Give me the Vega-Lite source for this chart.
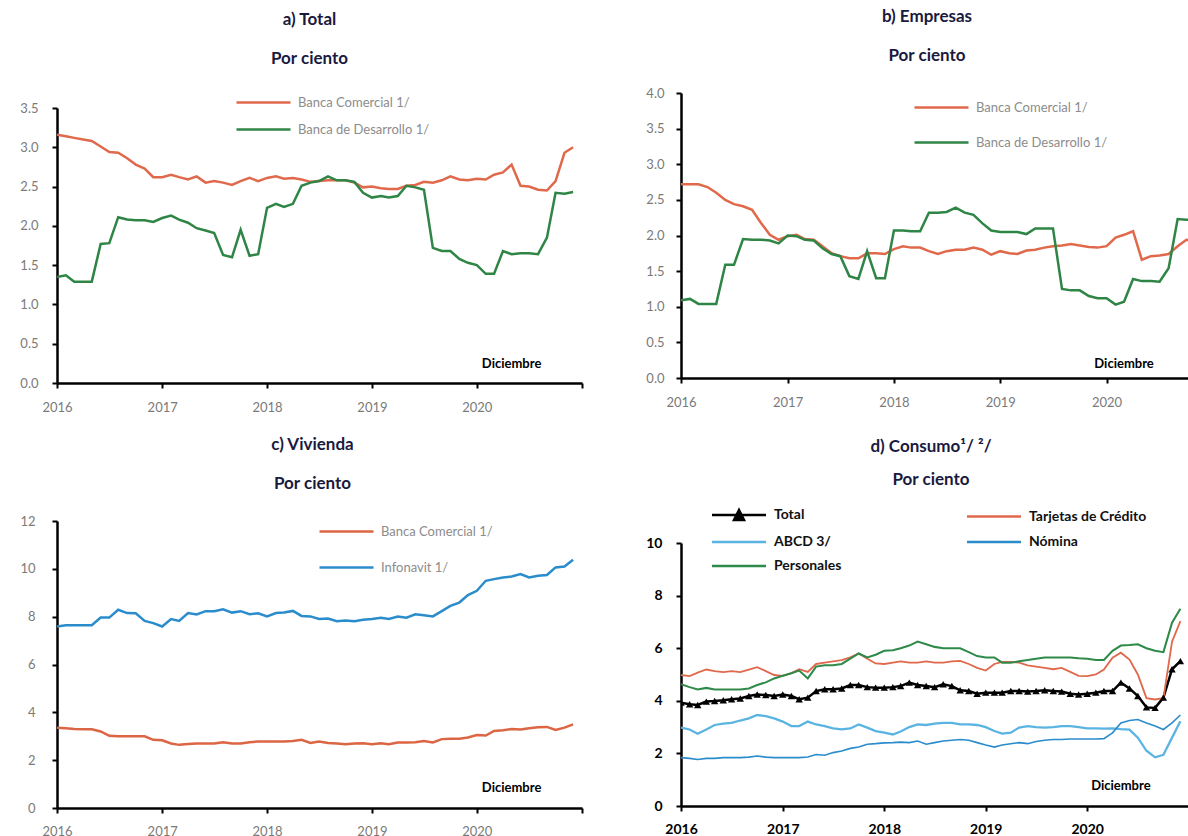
{
"$schema":"https://vega.github.io/schema/vega-lite/v6.json",
"padding":{"left":19,"top":8,"right":0,"bottom":0},
"config":{"font":"Lato","view":{"stroke":null},
"axis":{"grid":false,"domainColor":"black","domainWidth":2.5,"tickColor":"black","tickWidth":2,"tickSize":5,"labelFont":"Lato","labelColor":"#7a7a7a","labelFontSize":13,"labelFlush":false,"labelOverlap":false,"tickCount":30},
"title":{"font":"Lato","fontSize":17,"fontWeight":"bold","color":"#1a1a40","subtitleFont":"Lato","subtitleFontSize":17,"subtitleFontWeight":"bold","subtitleColor":"#1a1a40","subtitlePadding":22,"anchor":"middle"},
"legend":{"title":null,"symbolSize":100,"symbolStrokeWidth":2.5,"labelFont":"Lato","labelFontSize":13,"labelColor":"#8c8c8c","labelOffset":50,"orient":"none"}},
"datasets":{
"ta":[
{"m":"2016-01","bc":3.16,"bd":1.35},{"m":"2016-02","bc":3.14,"bd":1.37},{"m":"2016-03","bc":3.12,"bd":1.29},{"m":"2016-04","bc":3.10,"bd":1.29},{"m":"2016-05","bc":3.08,"bd":1.29},{"m":"2016-06","bc":3.01,"bd":1.77},{"m":"2016-07","bc":2.94,"bd":1.78},{"m":"2016-08","bc":2.93,"bd":2.11},{"m":"2016-09","bc":2.86,"bd":2.08},{"m":"2016-10","bc":2.78,"bd":2.07},{"m":"2016-11","bc":2.73,"bd":2.07},{"m":"2016-12","bc":2.62,"bd":2.05},
{"m":"2017-01","bc":2.62,"bd":2.10},{"m":"2017-02","bc":2.65,"bd":2.13},{"m":"2017-03","bc":2.62,"bd":2.08},{"m":"2017-04","bc":2.59,"bd":2.04},{"m":"2017-05","bc":2.63,"bd":1.97},{"m":"2017-06","bc":2.55,"bd":1.94},{"m":"2017-07","bc":2.57,"bd":1.91},{"m":"2017-08","bc":2.55,"bd":1.63},{"m":"2017-09","bc":2.52,"bd":1.60},{"m":"2017-10","bc":2.57,"bd":1.95},{"m":"2017-11","bc":2.61,"bd":1.62},{"m":"2017-12","bc":2.57,"bd":1.64},
{"m":"2018-01","bc":2.61,"bd":2.23},{"m":"2018-02","bc":2.63,"bd":2.28},{"m":"2018-03","bc":2.60,"bd":2.24},{"m":"2018-04","bc":2.61,"bd":2.28},{"m":"2018-05","bc":2.59,"bd":2.51},{"m":"2018-06","bc":2.56,"bd":2.55},{"m":"2018-07","bc":2.57,"bd":2.57},{"m":"2018-08","bc":2.58,"bd":2.63},{"m":"2018-09","bc":2.58,"bd":2.58},{"m":"2018-10","bc":2.58,"bd":2.58},{"m":"2018-11","bc":2.55,"bd":2.56},{"m":"2018-12","bc":2.49,"bd":2.42},
{"m":"2019-01","bc":2.50,"bd":2.36},{"m":"2019-02","bc":2.48,"bd":2.38},{"m":"2019-03","bc":2.47,"bd":2.36},{"m":"2019-04","bc":2.47,"bd":2.38},{"m":"2019-05","bc":2.51,"bd":2.51},{"m":"2019-06","bc":2.52,"bd":2.49},{"m":"2019-07","bc":2.56,"bd":2.46},{"m":"2019-08","bc":2.55,"bd":1.72},{"m":"2019-09","bc":2.58,"bd":1.68},{"m":"2019-10","bc":2.63,"bd":1.68},{"m":"2019-11","bc":2.59,"bd":1.58},{"m":"2019-12","bc":2.58,"bd":1.53},
{"m":"2020-01","bc":2.60,"bd":1.50},{"m":"2020-02","bc":2.59,"bd":1.39},{"m":"2020-03","bc":2.65,"bd":1.39},{"m":"2020-04","bc":2.68,"bd":1.68},{"m":"2020-05","bc":2.78,"bd":1.64},{"m":"2020-06","bc":2.51,"bd":1.65},{"m":"2020-07","bc":2.50,"bd":1.65},{"m":"2020-08","bc":2.46,"bd":1.64},{"m":"2020-09","bc":2.45,"bd":1.85},{"m":"2020-10","bc":2.57,"bd":2.42},{"m":"2020-11","bc":2.93,"bd":2.41},{"m":"2020-12","bc":3.00,"bd":2.43}],
"tb":[
{"m":"2016-01","bc":2.72,"bd":1.09},{"m":"2016-02","bc":2.72,"bd":1.11},{"m":"2016-03","bc":2.72,"bd":1.04},{"m":"2016-04","bc":2.68,"bd":1.04},{"m":"2016-05","bc":2.60,"bd":1.04},{"m":"2016-06","bc":2.50,"bd":1.59},{"m":"2016-07","bc":2.44,"bd":1.59},{"m":"2016-08","bc":2.41,"bd":1.95},{"m":"2016-09","bc":2.36,"bd":1.94},{"m":"2016-10","bc":2.18,"bd":1.94},{"m":"2016-11","bc":2.01,"bd":1.93},{"m":"2016-12","bc":1.94,"bd":1.89},
{"m":"2017-01","bc":1.99,"bd":2.00},{"m":"2017-02","bc":2.01,"bd":1.99},{"m":"2017-03","bc":1.95,"bd":1.94},{"m":"2017-04","bc":1.94,"bd":1.93},{"m":"2017-05","bc":1.85,"bd":1.82},{"m":"2017-06","bc":1.75,"bd":1.74},{"m":"2017-07","bc":1.71,"bd":1.71},{"m":"2017-08","bc":1.68,"bd":1.43},{"m":"2017-09","bc":1.68,"bd":1.39},{"m":"2017-10","bc":1.75,"bd":1.78},{"m":"2017-11","bc":1.75,"bd":1.40},{"m":"2017-12","bc":1.74,"bd":1.40},
{"m":"2018-01","bc":1.81,"bd":2.07},{"m":"2018-02","bc":1.85,"bd":2.07},{"m":"2018-03","bc":1.83,"bd":2.06},{"m":"2018-04","bc":1.83,"bd":2.06},{"m":"2018-05","bc":1.78,"bd":2.32},{"m":"2018-06","bc":1.74,"bd":2.32},{"m":"2018-07","bc":1.78,"bd":2.33},{"m":"2018-08","bc":1.80,"bd":2.39},{"m":"2018-09","bc":1.80,"bd":2.32},{"m":"2018-10","bc":1.83,"bd":2.29},{"m":"2018-11","bc":1.80,"bd":2.17},{"m":"2018-12","bc":1.73,"bd":2.07},
{"m":"2019-01","bc":1.78,"bd":2.05},{"m":"2019-02","bc":1.75,"bd":2.05},{"m":"2019-03","bc":1.74,"bd":2.05},{"m":"2019-04","bc":1.79,"bd":2.02},{"m":"2019-05","bc":1.80,"bd":2.10},{"m":"2019-06","bc":1.83,"bd":2.10},{"m":"2019-07","bc":1.85,"bd":2.10},{"m":"2019-08","bc":1.86,"bd":1.25},{"m":"2019-09","bc":1.88,"bd":1.23},{"m":"2019-10","bc":1.86,"bd":1.23},{"m":"2019-11","bc":1.84,"bd":1.15},{"m":"2019-12","bc":1.83,"bd":1.12},
{"m":"2020-01","bc":1.85,"bd":1.12},{"m":"2020-02","bc":1.97,"bd":1.03},{"m":"2020-03","bc":2.01,"bd":1.07},{"m":"2020-04","bc":2.06,"bd":1.39},{"m":"2020-05","bc":1.66,"bd":1.36},{"m":"2020-06","bc":1.71,"bd":1.36},{"m":"2020-07","bc":1.72,"bd":1.35},{"m":"2020-08","bc":1.74,"bd":1.54},{"m":"2020-09","bc":1.85,"bd":2.23},{"m":"2020-10","bc":1.94,"bd":2.22},{"m":"2020-11","bc":1.92,"bd":2.22},{"m":"2020-12","bc":1.95,"bd":2.22}],
"tc":[
{"m":"2016-01","bc":3.36,"inf":7.59},{"m":"2016-02","bc":3.33,"inf":7.64},{"m":"2016-03","bc":3.30,"inf":7.64},{"m":"2016-04","bc":3.29,"inf":7.64},{"m":"2016-05","bc":3.29,"inf":7.64},{"m":"2016-06","bc":3.20,"inf":7.96},{"m":"2016-07","bc":3.02,"inf":7.96},{"m":"2016-08","bc":3.00,"inf":8.29},{"m":"2016-09","bc":3.00,"inf":8.15},{"m":"2016-10","bc":3.00,"inf":8.14},{"m":"2016-11","bc":3.00,"inf":7.82},{"m":"2016-12","bc":2.85,"inf":7.73},
{"m":"2017-01","bc":2.83,"inf":7.59},{"m":"2017-02","bc":2.70,"inf":7.90},{"m":"2017-03","bc":2.64,"inf":7.82},{"m":"2017-04","bc":2.68,"inf":8.15},{"m":"2017-05","bc":2.70,"inf":8.09},{"m":"2017-06","bc":2.70,"inf":8.23},{"m":"2017-07","bc":2.70,"inf":8.23},{"m":"2017-08","bc":2.75,"inf":8.31},{"m":"2017-09","bc":2.70,"inf":8.17},{"m":"2017-10","bc":2.70,"inf":8.23},{"m":"2017-11","bc":2.75,"inf":8.10},{"m":"2017-12","bc":2.78,"inf":8.14},
{"m":"2018-01","bc":2.78,"inf":8.01},{"m":"2018-02","bc":2.78,"inf":8.15},{"m":"2018-03","bc":2.78,"inf":8.17},{"m":"2018-04","bc":2.80,"inf":8.24},{"m":"2018-05","bc":2.85,"inf":8.03},{"m":"2018-06","bc":2.72,"inf":8.01},{"m":"2018-07","bc":2.78,"inf":7.90},{"m":"2018-08","bc":2.72,"inf":7.92},{"m":"2018-09","bc":2.70,"inf":7.81},{"m":"2018-10","bc":2.67,"inf":7.84},{"m":"2018-11","bc":2.70,"inf":7.81},{"m":"2018-12","bc":2.71,"inf":7.87},
{"m":"2019-01","bc":2.67,"inf":7.90},{"m":"2019-02","bc":2.71,"inf":7.95},{"m":"2019-03","bc":2.67,"inf":7.90},{"m":"2019-04","bc":2.74,"inf":8.01},{"m":"2019-05","bc":2.74,"inf":7.96},{"m":"2019-06","bc":2.75,"inf":8.10},{"m":"2019-07","bc":2.80,"inf":8.06},{"m":"2019-08","bc":2.74,"inf":8.01},{"m":"2019-09","bc":2.88,"inf":8.23},{"m":"2019-10","bc":2.90,"inf":8.45},{"m":"2019-11","bc":2.90,"inf":8.59},{"m":"2019-12","bc":2.95,"inf":8.90},
{"m":"2020-01","bc":3.05,"inf":9.08},{"m":"2020-02","bc":3.03,"inf":9.50},{"m":"2020-03","bc":3.22,"inf":9.57},{"m":"2020-04","bc":3.25,"inf":9.64},{"m":"2020-05","bc":3.30,"inf":9.68},{"m":"2020-06","bc":3.28,"inf":9.78},{"m":"2020-07","bc":3.33,"inf":9.64},{"m":"2020-08","bc":3.38,"inf":9.71},{"m":"2020-09","bc":3.39,"inf":9.74},{"m":"2020-10","bc":3.26,"inf":10.06},{"m":"2020-11","bc":3.36,"inf":10.10},{"m":"2020-12","bc":3.50,"inf":10.38}],
"td":[
{"m":"2016-01","total":3.93,"tc":4.98,"abcd":2.98,"nom":1.84,"per":4.63},{"m":"2016-02","total":3.87,"tc":4.94,"abcd":2.91,"nom":1.81,"per":4.52},{"m":"2016-03","total":3.84,"tc":5.07,"abcd":2.75,"nom":1.77,"per":4.43},{"m":"2016-04","total":3.97,"tc":5.19,"abcd":2.91,"nom":1.81,"per":4.49},{"m":"2016-05","total":3.99,"tc":5.13,"abcd":3.08,"nom":1.81,"per":4.43},{"m":"2016-06","total":4.02,"tc":5.09,"abcd":3.13,"nom":1.84,"per":4.43},{"m":"2016-07","total":4.06,"tc":5.13,"abcd":3.16,"nom":1.84,"per":4.43},{"m":"2016-08","total":4.09,"tc":5.09,"abcd":3.25,"nom":1.84,"per":4.43},{"m":"2016-09","total":4.18,"tc":5.19,"abcd":3.33,"nom":1.86,"per":4.47},{"m":"2016-10","total":4.24,"tc":5.28,"abcd":3.46,"nom":1.90,"per":4.60},{"m":"2016-11","total":4.22,"tc":5.13,"abcd":3.42,"nom":1.86,"per":4.70},{"m":"2016-12","total":4.18,"tc":4.98,"abcd":3.33,"nom":1.84,"per":4.85},
{"m":"2017-01","total":4.24,"tc":4.95,"abcd":3.21,"nom":1.84,"per":4.95},{"m":"2017-02","total":4.18,"tc":5.05,"abcd":3.04,"nom":1.84,"per":5.05},{"m":"2017-03","total":4.06,"tc":5.20,"abcd":3.04,"nom":1.84,"per":5.15},{"m":"2017-04","total":4.12,"tc":5.10,"abcd":3.21,"nom":1.86,"per":4.85},{"m":"2017-05","total":4.37,"tc":5.40,"abcd":3.10,"nom":1.96,"per":5.30},{"m":"2017-06","total":4.44,"tc":5.45,"abcd":3.04,"nom":1.93,"per":5.35},{"m":"2017-07","total":4.44,"tc":5.50,"abcd":2.95,"nom":2.03,"per":5.35},{"m":"2017-08","total":4.47,"tc":5.55,"abcd":2.91,"nom":2.09,"per":5.40},{"m":"2017-09","total":4.60,"tc":5.65,"abcd":2.95,"nom":2.19,"per":5.60},{"m":"2017-10","total":4.60,"tc":5.80,"abcd":3.10,"nom":2.24,"per":5.80},{"m":"2017-11","total":4.52,"tc":5.60,"abcd":2.98,"nom":2.35,"per":5.65},{"m":"2017-12","total":4.50,"tc":5.42,"abcd":2.85,"nom":2.37,"per":5.75},
{"m":"2018-01","total":4.50,"tc":5.40,"abcd":2.79,"nom":2.40,"per":5.90},{"m":"2018-02","total":4.52,"tc":5.45,"abcd":2.72,"nom":2.41,"per":5.92},{"m":"2018-03","total":4.56,"tc":5.50,"abcd":2.83,"nom":2.43,"per":6.00},{"m":"2018-04","total":4.69,"tc":5.45,"abcd":3.00,"nom":2.41,"per":6.10},{"m":"2018-05","total":4.60,"tc":5.45,"abcd":3.10,"nom":2.47,"per":6.25},{"m":"2018-06","total":4.56,"tc":5.50,"abcd":3.08,"nom":2.35,"per":6.15},{"m":"2018-07","total":4.52,"tc":5.45,"abcd":3.13,"nom":2.41,"per":6.05},{"m":"2018-08","total":4.63,"tc":5.45,"abcd":3.16,"nom":2.47,"per":6.00},{"m":"2018-09","total":4.56,"tc":5.50,"abcd":3.16,"nom":2.50,"per":6.00},{"m":"2018-10","total":4.40,"tc":5.52,"abcd":3.10,"nom":2.53,"per":6.00},{"m":"2018-11","total":4.37,"tc":5.40,"abcd":3.10,"nom":2.50,"per":5.85},{"m":"2018-12","total":4.27,"tc":5.25,"abcd":3.08,"nom":2.41,"per":5.70},
{"m":"2019-01","total":4.31,"tc":5.15,"abcd":3.00,"nom":2.32,"per":5.65},{"m":"2019-02","total":4.31,"tc":5.40,"abcd":2.85,"nom":2.24,"per":5.65},{"m":"2019-03","total":4.31,"tc":5.48,"abcd":2.75,"nom":2.32,"per":5.45},{"m":"2019-04","total":4.37,"tc":5.48,"abcd":2.79,"nom":2.37,"per":5.45},{"m":"2019-05","total":4.37,"tc":5.45,"abcd":2.98,"nom":2.41,"per":5.50},{"m":"2019-06","total":4.35,"tc":5.35,"abcd":3.04,"nom":2.37,"per":5.55},{"m":"2019-07","total":4.37,"tc":5.30,"abcd":3.00,"nom":2.45,"per":5.60},{"m":"2019-08","total":4.40,"tc":5.25,"abcd":2.98,"nom":2.50,"per":5.65},{"m":"2019-09","total":4.37,"tc":5.20,"abcd":3.00,"nom":2.53,"per":5.65},{"m":"2019-10","total":4.35,"tc":5.25,"abcd":3.04,"nom":2.53,"per":5.65},{"m":"2019-11","total":4.27,"tc":5.10,"abcd":3.04,"nom":2.55,"per":5.65},{"m":"2019-12","total":4.24,"tc":4.95,"abcd":3.00,"nom":2.55,"per":5.62},
{"m":"2020-01","total":4.27,"tc":4.94,"abcd":2.95,"nom":2.55,"per":5.60},{"m":"2020-02","total":4.31,"tc":5.00,"abcd":2.95,"nom":2.55,"per":5.55},{"m":"2020-03","total":4.37,"tc":5.19,"abcd":2.94,"nom":2.56,"per":5.55},{"m":"2020-04","total":4.37,"tc":5.64,"abcd":2.95,"nom":2.78,"per":5.90},{"m":"2020-05","total":4.69,"tc":5.83,"abcd":2.92,"nom":3.16,"per":6.10},{"m":"2020-06","total":4.47,"tc":5.57,"abcd":2.90,"nom":3.25,"per":6.12},{"m":"2020-07","total":4.18,"tc":5.00,"abcd":2.60,"nom":3.29,"per":6.15},{"m":"2020-08","total":3.75,"tc":4.10,"abcd":2.10,"nom":3.16,"per":6.00},{"m":"2020-09","total":3.73,"tc":4.05,"abcd":1.85,"nom":3.04,"per":5.90},{"m":"2020-10","total":4.12,"tc":4.10,"abcd":1.95,"nom":2.91,"per":5.85},{"m":"2020-11","total":5.20,"tc":6.25,"abcd":2.60,"nom":3.16,"per":6.97},{"m":"2020-12","total":5.51,"tc":7.03,"abcd":3.22,"nom":3.46,"per":7.50}]
},
"spacing":22,
"resolve":{"scale":{"color":"independent","x":"independent","y":"independent"},"legend":{"color":"independent"}},
"vconcat":[
{"spacing":62,
"resolve":{"scale":{"color":"independent","x":"independent","y":"independent"},"legend":{"color":"independent"}},
"hconcat":[
{"width":525,"height":290,
"title":{"text":"a) Total","subtitle":"Por ciento","offset":25,"dx":-10},
"layer":[
{"data":{"name":"ta","format":{"parse":{"m":"date:'%Y-%m'"}}},
"transform":[{"fold":["bc","bd"],"as":["s","v"]}],
"mark":{"type":"line","strokeWidth":2.5,"clip":true},
"encoding":{
"x":{"field":"m","type":"temporal","title":null,"scale":{"domain":[{"year":2016,"month":1,"date":1},{"year":2021,"month":1,"date":1}]},"axis":{"values":[{"year":2016},{"year":2017},{"year":2018},{"year":2019},{"year":2020},{"year":2021}],"labelExpr":"year(datum.value) > 2020 ? '' : timeFormat(datum.value, '%Y')","labelPadding":13}},
"y":{"field":"v","type":"quantitative","title":null,"scale":{"domain":[0,3.5],"range":[290,15]},"axis":{"values":[0,0.5,1,1.5,2,2.5,3,3.5],"format":".1f","labelPadding":14,"labelOverlap":false,"tickCount":30}},
"color":{"field":"s","type":"nominal","scale":{"domain":["bc","bd"],"range":["#e0694c","#2f8545"]},
"legend":{"legendX":178,"legendY":3,"symbolType":"M-1,0H9.8","rowPadding":13,"labelExpr":"datum.label == 'bc' ? 'Banca Comercial 1/' : 'Banca de Desarrollo 1/'"}}}},
{"data":{"values":[{"m":"2020-05","v":0.24,"t":"Diciembre"}],"format":{"parse":{"m":"date:'%Y-%m'"}}},
"mark":{"type":"text","font":"Lato","fontWeight":"bold","fontSize":13,"color":"black"},
"encoding":{"x":{"field":"m","type":"temporal"},"y":{"field":"v","type":"quantitative"},"text":{"field":"t"}}}]},
{"width":508,"height":285,
"title":{"text":"b) Empresas","subtitle":"Por ciento","offset":22,"dx":-8},
"layer":[
{"data":{"name":"tb","format":{"parse":{"m":"date:'%Y-%m'"}}},
"transform":[{"fold":["bc","bd"],"as":["s","v"]}],
"mark":{"type":"line","strokeWidth":2.5,"clip":true},
"encoding":{
"x":{"field":"m","type":"temporal","title":null,"scale":{"domain":[{"year":2016,"month":1,"date":1},{"year":2020,"month":10,"date":10}]},"axis":{"values":[{"year":2016},{"year":2017},{"year":2018},{"year":2019},{"year":2020}],"format":"%Y","labelPadding":13}},
"y":{"field":"v","type":"quantitative","title":null,"scale":{"domain":[0,4]},"axis":{"values":[0,0.5,1,1.5,2,2.5,3,3.5,4],"format":".1f","labelPadding":12,"labelOverlap":false,"tickCount":30}},
"color":{"field":"s","type":"nominal","scale":{"domain":["bc","bd"],"range":["#e0694c","#2f8545"]},
"legend":{"legendX":232,"legendY":8,"symbolType":"M-1,0H9.8","rowPadding":21,"labelExpr":"datum.label == 'bc' ? 'Banca Comercial 1/' : 'Banca de Desarrollo 1/'"}}}},
{"data":{"values":[{"m":"2020-03","v":0.2,"t":"Diciembre"}],"format":{"parse":{"m":"date:'%Y-%m'"}}},
"mark":{"type":"text","font":"Lato","fontWeight":"bold","fontSize":13,"color":"black"},
"encoding":{"x":{"field":"m","type":"temporal"},"y":{"field":"v","type":"quantitative"},"text":{"field":"t"}}}]}
]},
{"spacing":62,
"resolve":{"scale":{"color":"independent","x":"independent","y":"independent"},"legend":{"color":"independent"}},
"hconcat":[
{"width":525,"height":287,
"title":{"text":"c) Vivienda","subtitle":"Por ciento","offset":22,"dx":-7},
"layer":[
{"data":{"name":"tc","format":{"parse":{"m":"date:'%Y-%m'"}}},
"transform":[{"fold":["bc","inf"],"as":["s","v"]}],
"mark":{"type":"line","strokeWidth":2.5,"clip":true},
"encoding":{
"x":{"field":"m","type":"temporal","title":null,"scale":{"domain":[{"year":2016,"month":1,"date":1},{"year":2021,"month":1,"date":1}]},"axis":{"values":[{"year":2016},{"year":2017},{"year":2018},{"year":2019},{"year":2020},{"year":2021}],"labelExpr":"year(datum.value) > 2020 ? '' : timeFormat(datum.value, '%Y')","labelPadding":12}},
"y":{"field":"v","type":"quantitative","title":null,"scale":{"domain":[0,12]},"axis":{"values":[0,2,4,6,8,10,12],"format":"d","labelPadding":17,"labelOverlap":false,"tickCount":30}},
"color":{"field":"s","type":"nominal","scale":{"domain":["bc","inf"],"range":["#dc6544","#2b8ccc"]},
"legend":{"legendX":261,"legendY":4,"symbolType":"M-1,0H9.8","rowPadding":22,"labelExpr":"datum.label == 'bc' ? 'Banca Comercial 1/' : 'Infonavit 1/'"}}}},
{"data":{"values":[{"m":"2020-05","v":0.84,"t":"Diciembre"}],"format":{"parse":{"m":"date:'%Y-%m'"}}},
"mark":{"type":"text","font":"Lato","fontWeight":"bold","fontSize":13,"color":"black"},
"encoding":{"x":{"field":"m","type":"temporal"},"y":{"field":"v","type":"quantitative"},"text":{"field":"t"}}}]},
{"width":508,"height":285,
"title":{"text":"d) Consumo¹/ ²/","subtitle":"Por ciento","offset":19,"dx":-4,"subtitlePadding":16},
"data":{"name":"td","format":{"parse":{"m":"date:'%Y-%m'"}}},
"layer":[
{"transform":[{"fold":["total","tc","abcd","nom","per"],"as":["s","v"]}],
"mark":{"type":"line","clip":true},
"encoding":{
"x":{"field":"m","type":"temporal","title":null,"scale":{"domain":[{"year":2016,"month":1,"date":1},{"year":2021,"month":1,"date":1}]},"axis":{"values":[{"year":2016},{"year":2017},{"year":2018},{"year":2019},{"year":2020},{"year":2021}],"labelExpr":"year(datum.value) > 2020 ? '' : timeFormat(datum.value, '%Y')","labelPadding":11,"labelColor":"black","labelFontWeight":"bold","labelFontSize":14}},
"y":{"field":"v","type":"quantitative","title":null,"scale":{"domain":[0,10],"range":[285,22]},"axis":{"values":[0,2,4,6,8,10],"format":"d","labelPadding":14,"labelColor":"black","labelFontWeight":"bold","labelFontSize":14,"labelOverlap":false,"tickCount":30}},
"strokeWidth":{"field":"s","type":"nominal","scale":{"domain":["total","abcd","per","tc","nom"],"range":[2.5,1.6,2.5,2.5,2.5]},"legend":null},
"color":{"field":"s","type":"nominal","scale":{"domain":["total","abcd","per","tc","nom"],"range":["#000000","#5ab4e2","#2f8a4a","#e0694c","#2b8ccc"]},
"legend":{"legendX":29,"legendY":-13,"columns":2,"columnPadding":120,"rowPadding":10,"labelColor":"#111111","labelFontWeight":"bold","labelFontSize":14,"symbolType":"M-1,0H9.8",
"labelExpr":"datum.label == 'total' ? 'Total' : datum.label == 'tc' ? 'Tarjetas de Crédito' : datum.label == 'abcd' ? 'ABCD 3/' : datum.label == 'nom' ? 'Nómina' : 'Personales'",
"encode":{"symbols":{"update":{"shape":{"signal":"datum.value === 'total' ? 'M-1,0H9.8M3.4,1L4.4,-1L5.4,1Z' : 'M-1,0H9.8'"},"fill":{"signal":"datum.value === 'total' ? 'black' : 'transparent'"}}}}}}}},
{"mark":{"type":"point","shape":"triangle-up","filled":true,"size":55,"color":"black","opacity":1,"clip":true},
"encoding":{"x":{"field":"m","type":"temporal"},"y":{"field":"total","type":"quantitative"}}},
{"data":{"values":[{"m":"2020-05","v":0.76,"t":"Diciembre"}],"format":{"parse":{"m":"date:'%Y-%m'"}}},
"mark":{"type":"text","font":"Lato","fontWeight":"bold","fontSize":13,"color":"black"},
"encoding":{"x":{"field":"m","type":"temporal"},"y":{"field":"v","type":"quantitative"},"text":{"field":"t"}}}]}
]}
]
}
